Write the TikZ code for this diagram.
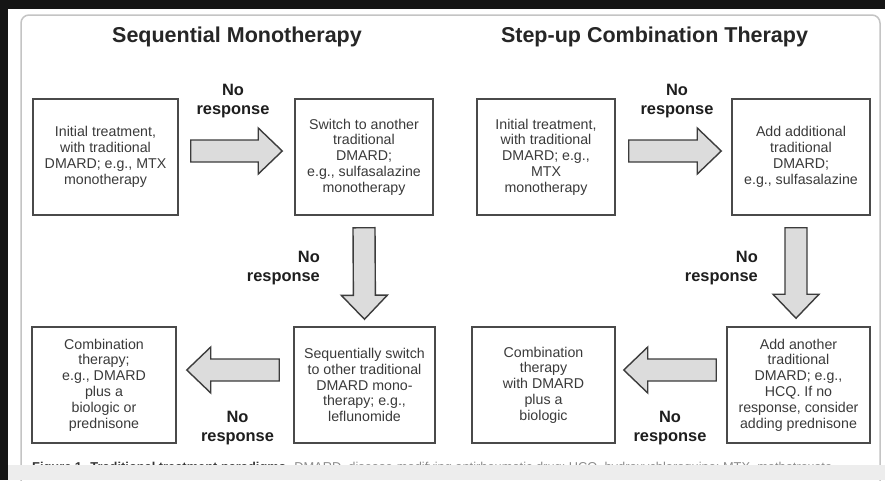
\documentclass[tikz,border=0pt]{standalone}
\usepackage{fontspec}
\setmainfont{Liberation Sans}
\usetikzlibrary{calc}
\definecolor{boxline}{HTML}{4A4A4A}
\definecolor{boxtext}{HTML}{3A3A3A}
\definecolor{labtext}{HTML}{1E1E1E}
\definecolor{ttltext}{HTML}{262626}
\definecolor{arrline}{HTML}{3C3C3C}
\definecolor{arrfill}{HTML}{DCDCDC}
\definecolor{panelline}{HTML}{C4C4C4}
\definecolor{darkbar}{HTML}{151515}
\definecolor{band}{HTML}{EDEDED}
\definecolor{capbold}{HTML}{333333}
\definecolor{capgray}{HTML}{8A8A8A}
\tikzset{
  box/.style={draw=boxline, line width=1.5pt, fill=white, minimum height=116pt,
    inner sep=0pt, align=center, font=\fontsize{14.2}{15.8}\selectfont, text=boxtext},
  lab/.style={font=\bfseries\fontsize{16.4}{18.5}\selectfont, text=labtext, align=center, inner sep=0pt},
  ttl/.style={font=\bfseries\fontsize{21.5}{24}\selectfont, text=ttltext, inner sep=0pt},
  barrow/.style={draw=arrline, fill=arrfill, line width=1.4pt, line join=miter},
}
\newcommand{\blockarr}[2]{%
  \path (#1) coordinate (bs) (#2) coordinate (be);
  \coordinate (hb) at ($(be)!24pt!(bs)$);
  \draw[barrow] ($(bs)!11pt!90:(be)$) -- ($(hb)!11pt!-90:(bs)$) -- ($(hb)!23pt!-90:(bs)$)
    -- (be) -- ($(hb)!23pt!90:(bs)$) -- ($(hb)!11pt!90:(bs)$) -- ($(bs)!11pt!-90:(be)$) -- cycle;}
\begin{document}
\begin{tikzpicture}[x=1pt,y=-1pt]
\useasboundingbox (0,0) rectangle (885,480);
% background
\fill[white] (0,0) rectangle (885,480);
\draw[panelline, line width=1.5pt, fill=white, rounded corners=8pt] (21,15) rectangle (880,520);
\fill[darkbar] (0,0) rectangle (885,9);
\fill[darkbar] (0,0) rectangle (8,480);
% titles
\node[ttl, anchor=base] (t1) at (237,42) {Sequential Monotherapy};
\node[ttl, anchor=base] (t2) at (654.5,42) {Step-up Combination Therapy};
% boxes
\node[box, minimum width=145pt] (A) at (105.5,157) {Initial treatment,\\with traditional\\DMARD; e.g., MTX\\monotherapy};
\node[box, minimum width=138pt] (B) at (364,157) {Switch to another\\traditional\\DMARD;\\e.g., sulfasalazine\\monotherapy};
\node[box, minimum width=141pt] (C) at (364.5,385) {Sequentially switch\\to other traditional\\DMARD mono-\\therapy; e.g.,\\leflunomide};
\node[box, minimum width=144pt] (D) at (104,385) {Combination\\therapy;\\e.g., DMARD\\plus a\\biologic or\\prednisone};
\node[box, minimum width=138pt] (E) at (546,157) {Initial treatment,\\with traditional\\DMARD; e.g.,\\MTX\\monotherapy};
\node[box, minimum width=138pt] (F) at (801,157) {Add additional\\traditional\\DMARD;\\e.g., sulfasalazine};
\node[box, minimum width=143pt] (G) at (798.5,385) {Add another\\traditional\\DMARD; e.g.,\\HCQ. If no\\response, consider\\adding prednisone};
\node[box, minimum width=143pt] (H) at (543.5,385) {Combination\\therapy\\with DMARD\\plus a\\biologic};
% block arrows
\blockarr{$(A.east)+(12,-6)$}{$(B.west)+(-12,-6)$}
\blockarr{$(E.east)+(13,-6)$}{$(F.west)+(-10,-6)$}
\blockarr{$(B.south)+(0,12)$}{$(C.north)+(0,-7)$}
\blockarr{$(F.south)+(-5,12)$}{$(G.north)+(-2.5,-8)$}
\blockarr{$(C.west)+(-14,-15)$}{$(D.east)+(10,-15)$}
\blockarr{$(G.west)+(-10,-15)$}{$(H.east)+(8,-15)$}
% labels
\node[lab] (l1) at (233,101) {No\\response};
\node[lab] (l2) at (677,101) {No\\response};
\node[lab, align=right, anchor=east] (l3) at (320,268) {No\\response};
\node[lab, align=right, anchor=east] (l4) at (758,268) {No\\response};
\node[lab] (l5) at (237.5,428) {No\\response};
\node[lab] (l6) at (670,428) {No\\response};
% caption (cut off)
\node[anchor=base west, inner sep=0pt] (cap) at (32,471) {\resizebox{800pt}{!}{\fontsize{12}{14}\selectfont\textcolor{capbold}{\bfseries Figure 1. Traditional treatment paradigms.} \textcolor{capgray}{DMARD, disease-modifying antirheumatic drug; HCQ, hydroxychloroquine; MTX, methotrexate}}};
\fill[band] (8,465) rectangle (885,480);
\end{tikzpicture}
\end{document}
